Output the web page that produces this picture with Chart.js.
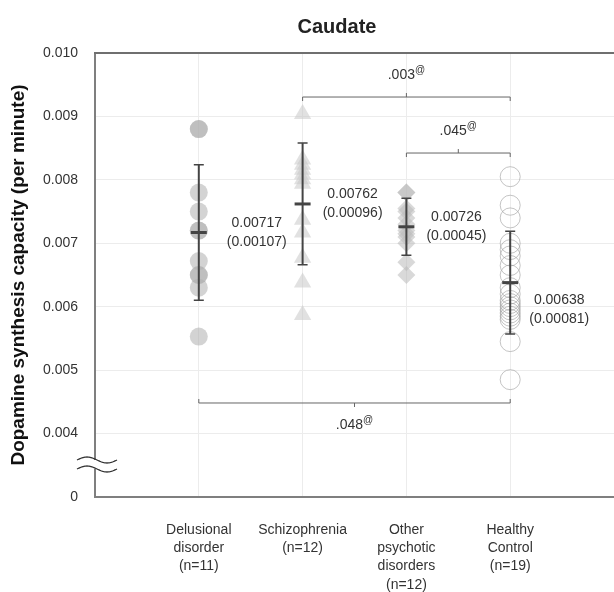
<!DOCTYPE html>
<html>
<head>
<meta charset="utf-8">
<script src="https://cdn.jsdelivr.net/npm/chart.js@4.4.1/dist/chart.umd.min.js"></script>
<style>
  body { margin: 0; background: #fff; }
</style>
</head>
<body>
<canvas id="c" width="614" height="592"></canvas>
<script>
const FONT = '"Liberation Sans", Arial, sans-serif';

const xLabels = [
  ['Delusional', 'disorder', '(n=11)'],
  ['Schizophrenia', '(n=12)'],
  ['Other', 'psychotic', 'disorders', '(n=12)'],
  ['Healthy', 'Control', '(n=19)']
];
const delusional = [0.0088, 0.0088, 0.0078, 0.0075, 0.0072, 0.0072, 0.00672, 0.0065, 0.0065, 0.0063, 0.00553];
const schizophrenia = [0.00904, 0.00832, 0.00824, 0.00816, 0.00809, 0.00801, 0.00794, 0.00737, 0.00717, 0.00677, 0.00638, 0.00587];
const otherPsychotic = [0.0078, 0.0078, 0.00755, 0.0075, 0.0074, 0.0073, 0.0072, 0.00715, 0.0071, 0.0070, 0.0067, 0.0065];
const healthy = [0.00805, 0.0076, 0.0074, 0.0070, 0.0069, 0.0068, 0.00665, 0.0065, 0.0063, 0.0062, 0.0061, 0.00605, 0.0060, 0.00595, 0.0059, 0.00585, 0.0058, 0.00545, 0.00485];
const means = [0.00717, 0.00762, 0.00726, 0.00638];
const sds = [0.00107, 0.00096, 0.00045, 0.00081];
const yTicks = [0.003, 0.004, 0.005, 0.006, 0.007, 0.008, 0.009, 0.010];
const yTickLabels = ['0', '0.004', '0.005', '0.006', '0.007', '0.008', '0.009', '0.010'];
// p-value brackets: group positions (1-based) and height in data units
const brackets = [
  { from: 2, to: 4, y: 0.009306, label: '.003', up: true },
  { from: 3, to: 4, y: 0.008423, label: '.045', up: true },
  { from: 1, to: 4, y: 0.004482, label: '.048', up: false }
];

const toPts = (arr, g) => arr.map(v => ({ x: g, y: v }));

const overlay = {
  id: 'overlay',
  afterDatasetsDraw(chart) {
    const { ctx, scales: { x, y } } = chart;
    ctx.save();
    // error bars: mean +/- sd
    const offs = [58, 50, 50, 49];
    const dy = [0, 0, 0, 27];
    means.forEach((m, i) => {
      const px = x.getPixelForValue(i + 1);
      const top = y.getPixelForValue(m + sds[i]);
      const bot = y.getPixelForValue(m - sds[i]);
      const mid = y.getPixelForValue(m);
      ctx.strokeStyle = '#444';
      ctx.lineWidth = 2;
      ctx.beginPath();
      ctx.moveTo(px, top); ctx.lineTo(px, bot);
      ctx.stroke();
      ctx.lineWidth = 1.5;
      ctx.beginPath();
      ctx.moveTo(px - 5, top); ctx.lineTo(px + 5, top);
      ctx.moveTo(px - 5, bot); ctx.lineTo(px + 5, bot);
      ctx.stroke();
      ctx.lineWidth = 3;
      ctx.beginPath();
      ctx.moveTo(px - 8, mid); ctx.lineTo(px + 8, mid);
      ctx.stroke();

      ctx.fillStyle = '#333';
      ctx.font = '14px ' + FONT;
      ctx.textAlign = 'center';
      ctx.textBaseline = 'middle';
      ctx.fillText(m.toFixed(5), px + offs[i], mid + dy[i] - 9.5);
      ctx.fillText('(' + sds[i].toFixed(5) + ')', px + offs[i], mid + dy[i] + 9.5);
    });

    // significance brackets
    brackets.forEach(b => {
      const x1 = x.getPixelForValue(b.from);
      const x2 = x.getPixelForValue(b.to);
      const py = y.getPixelForValue(b.y);
      const d = b.up ? 1 : -1;
      const xm = (x1 + x2) / 2;
      ctx.strokeStyle = '#666';
      ctx.lineWidth = 1;
      ctx.beginPath();
      ctx.moveTo(x1, py + 4 * d); ctx.lineTo(x1, py); ctx.lineTo(x2, py); ctx.lineTo(x2, py + 4 * d);
      ctx.moveTo(xm, py); ctx.lineTo(xm, py - 4 * d);
      ctx.stroke();

      ctx.font = '14px ' + FONT;
      const w1 = ctx.measureText(b.label).width;
      ctx.font = '10px ' + FONT;
      const w2 = ctx.measureText('@').width;
      const lx = xm - (w1 + w2) / 2;
      const ly = py - 22 * d;
      ctx.fillStyle = '#333';
      ctx.textAlign = 'left';
      ctx.textBaseline = 'middle';
      ctx.font = '14px ' + FONT;
      ctx.fillText(b.label, lx, ly);
      ctx.font = '10px ' + FONT;
      ctx.fillText('@', lx + w1, ly - 5);
    });
    ctx.restore();
  },
  afterDraw(chart) {
    const { ctx, chartArea: a } = chart;
    ctx.save();
    // top frame line
    ctx.strokeStyle = '#6f6f6f';
    ctx.lineWidth = 2;
    ctx.beginPath();
    ctx.moveTo(a.left - 1, a.top); ctx.lineTo(a.right, a.top);
    ctx.stroke();

    // axis break mark
    const yb = a.bottom - 37;
    ctx.fillStyle = '#fff';
    ctx.fillRect(a.left - 3, yb, 6, 9);
    ctx.strokeStyle = '#333';
    ctx.lineWidth = 1.3;
    [yb, yb + 9].forEach(yc => {
      ctx.beginPath();
      for (let t = 0; t <= 40; t++) {
        const px = a.left - 18 + t;
        const py = yc - 3 * Math.sin((t / 40) * 2 * Math.PI);
        if (t === 0) ctx.moveTo(px, py); else ctx.lineTo(px, py);
      }
      ctx.stroke();
    });

    // title
    ctx.fillStyle = '#222';
    ctx.font = 'bold 20px ' + FONT;
    ctx.textAlign = 'center';
    ctx.textBaseline = 'middle';
    ctx.fillText('Caudate', 337, 27);
    ctx.restore();
  }
};

new Chart(document.getElementById('c'), {
  type: 'scatter',
  data: {
    datasets: [
      { data: toPts(delusional, 1), pointStyle: 'circle', pointRadius: 9,
        backgroundColor: 'rgba(175,175,175,0.55)', borderWidth: 0 },
      { data: toPts(schizophrenia, 2), pointStyle: 'triangle', pointRadius: 10,
        backgroundColor: 'rgba(200,200,200,0.55)', borderWidth: 0 },
      { data: toPts(otherPsychotic, 3), pointStyle: 'rectRot', pointRadius: 9,
        backgroundColor: 'rgba(185,185,185,0.55)', borderWidth: 0 },
      { data: toPts(healthy, 4), pointStyle: 'circle', pointRadius: 10,
        backgroundColor: 'rgba(0,0,0,0)', borderColor: 'rgba(165,165,165,0.65)', borderWidth: 1 }
    ]
  },
  options: {
    responsive: false,
    animation: false,
    layout: { autoPadding: false, padding: { top: 53, right: 0, bottom: 0, left: 0 } },
    plugins: { legend: { display: false }, tooltip: { enabled: false } },
    scales: {
      x: {
        type: 'linear', min: 0, max: 5,
        afterBuildTicks: s => { s.ticks = xLabels.map((_, i) => ({ value: i + 1 })); },
        afterFit: s => { s.height = 95; s.paddingLeft = 0; s.paddingRight = 0; },
        ticks: {
          callback: v => xLabels[v - 1],
          font: { family: FONT, size: 14, lineHeight: 1.3 },
          color: '#333', padding: 24, maxRotation: 0, autoSkip: false
        },
        grid: { color: '#ececec', drawTicks: false },
        border: { color: '#7f7f7f', width: 2 }
      },
      y: {
        min: 0.003, max: 0.010,
        afterBuildTicks: s => { s.ticks = yTicks.map(v => ({ value: v })); },
        afterFit: s => { s.width = 95; s.paddingTop = 0; s.paddingBottom = 0; },
        ticks: {
          callback: (v, i) => yTickLabels[i],
          font: { family: FONT, size: 14 },
          color: '#333', padding: 17
        },
        grid: { color: '#ececec', drawTicks: false },
        border: { color: '#7f7f7f', width: 2 },
        title: {
          display: true, text: 'Dopamine synthesis capacity (per minute)',
          font: { family: FONT, size: 19, weight: 'bold' }, color: '#111',
          padding: { top: 7, bottom: 0 }
        }
      }
    }
  },
  plugins: [overlay]
});
</script>
</body>
</html>
